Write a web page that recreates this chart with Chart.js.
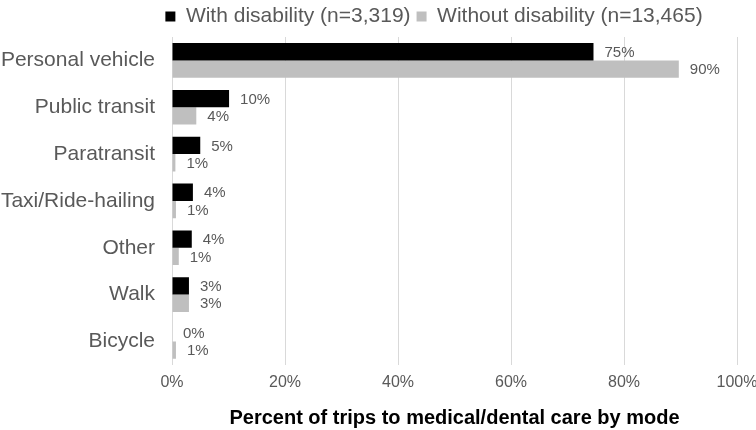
<!DOCTYPE html>
<html>
<head>
<meta charset="utf-8">
<script src="https://cdn.jsdelivr.net/npm/chart.js@4"></script>
<style>
  body { margin: 0; background: #fff; }
  #wrap { width: 756px; height: 430px; }
</style>
</head>
<body>
<div id="wrap"><canvas id="modes"></canvas></div>
<script>
const modes = ["Personal vehicle", "Public transit", "Paratransit", "Taxi/Ride-hailing", "Other", "Walk", "Bicycle"];
const withDisability = [74.6, 10.1, 5.0, 3.7, 3.5, 3.0, 0.0];
const withoutDisability = [89.7, 4.3, 0.6, 0.7, 1.2, 3.0, 0.7];
const seriesNames = ["With disability (n=3,319)", "Without disability (n=13,465)"];
const xTicks = [0, 20, 40, 60, 80, 100];

const FONT = '"Liberation Sans", Arial, sans-serif';
const GREY_TEXT = "#595959";

// draws the % value to the right of each bar
const barLabels = {
  id: "barLabels",
  afterDatasetsDraw(chart) {
    const ctx = chart.ctx;
    ctx.save();
    ctx.font = "15px " + FONT;
    ctx.fillStyle = GREY_TEXT;
    ctx.textAlign = "left";
    ctx.textBaseline = "middle";
    chart.data.datasets.forEach((ds, i) => {
      chart.getDatasetMeta(i).data.forEach((bar, j) => {
        ctx.fillText(Math.round(ds.data[j]) + "%", bar.x + 11, bar.y + 1);
      });
    });
    ctx.restore();
  },
};

// legend sits right of centre in the original
const legendShift = {
  id: "legendShift",
  afterLayout(chart) {
    const d = 56;
    chart.legend.left += d;
    chart.legend.right += d;
  },
};

new Chart(document.getElementById("modes"), {
  type: "bar",
  data: {
    labels: modes,
    datasets: [
      { label: seriesNames[0], data: withDisability, backgroundColor: "#000000" },
      { label: seriesNames[1], data: withoutDisability, backgroundColor: "#bfbfbf" },
    ],
  },
  options: {
    indexAxis: "y",
    responsive: true,
    maintainAspectRatio: false,
    animation: false,
    categoryPercentage: 0.74,
    barPercentage: 1,
    layout: { padding: { left: 0, right: 0, top: 0, bottom: 0 } },
    plugins: {
      legend: {
        position: "top",
        labels: {
          boxWidth: 10,
          boxHeight: 10,
          padding: 6,
          color: GREY_TEXT,
          font: { family: FONT, size: 21 },
        },
      },
      tooltip: { enabled: false },
    },
    scales: {
      x: {
        min: 0,
        max: 100,
        afterBuildTicks: (axis) => { axis.ticks = xTicks.map((v) => ({ value: v })); },
        afterFit: (axis) => { axis.paddingRight = 19; },
        grid: { color: "#d9d9d9", drawTicks: false },
        border: { display: false },
        ticks: {
          padding: 8,
          color: GREY_TEXT,
          font: { family: FONT, size: 16 },
          callback: (v) => v + "%",
        },
        title: {
          display: true,
          text: "Percent of trips to medical/dental care by mode",
          color: "#000000",
          font: { family: FONT, size: 20, weight: "bold" },
          padding: { top: 6, bottom: 0 },
        },
      },
      y: {
        afterFit: (axis) => { axis.width = 172; },
        grid: { display: false, drawTicks: false },
        border: { display: true, color: "#d9d9d9" },
        ticks: {
          padding: 17,
          color: GREY_TEXT,
          font: { family: FONT, size: 21 },
        },
      },
    },
  },
  plugins: [barLabels, legendShift],
});
</script>
</body>
</html>
